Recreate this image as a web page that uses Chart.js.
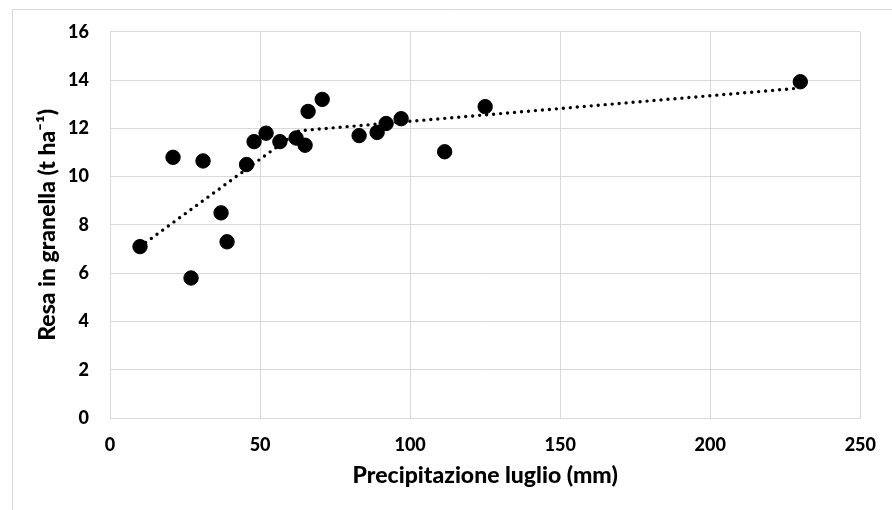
<!DOCTYPE html>
<html>
<head>
<meta charset="utf-8">
<script src="https://cdn.jsdelivr.net/npm/chart.js@4"></script>
<style>
  html, body { margin: 0; padding: 0; background: #ffffff; }
  #wrap { width: 892px; height: 510px; position: relative; }
</style>
</head>
<body>
<div id="wrap"><canvas id="c" width="892" height="510"></canvas></div>
<script>
// Data
const precipitation = [10, 21, 27, 31, 37, 39, 45.5, 48, 52, 56.6, 62, 65, 66, 70.7, 83, 89, 92, 97, 111.5, 125, 230];
const grainYield    = [7.1, 10.8, 5.8, 10.65, 8.5, 7.3, 10.5, 11.45, 11.8, 11.45, 11.6, 11.3, 12.7, 13.2, 11.7, 11.83, 12.2, 12.4, 11.03, 12.9, 13.93];
const trendX = [10, 63, 230];
const trendY = [7.1, 11.9, 13.67];
const xTicks = [0, 50, 100, 150, 200, 250];
const yTicks = [0, 2, 4, 6, 8, 10, 12, 14, 16];
const xTitle = 'Precipitazione luglio (mm)';
const yTitle = 'Resa in granella (t ha\u207B\u00B9)';

const points = precipitation.map((x, i) => ({ x: x, y: grainYield[i] }));
const trend = trendX.map((x, i) => ({ x: x, y: trendY[i] }));

const FONT = 'Lato, "DejaVu Sans", sans-serif';
const GRID = '#d9d9d9';

const frame = {
  id: 'frame',
  beforeDraw(chart) {
    const ctx = chart.ctx;
    ctx.save();
    ctx.strokeStyle = GRID;
    ctx.lineWidth = 1;
    ctx.beginPath();
    ctx.moveTo(12.5, 510);
    ctx.lineTo(12.5, 9.5);
    ctx.lineTo(892, 9.5);
    ctx.stroke();
    ctx.restore();
  }
};

new Chart(document.getElementById('c'), {
  type: 'scatter',
  data: {
    datasets: [
      {
        label: 'trend',
        type: 'line',
        data: trend,
        borderColor: '#000000',
        borderWidth: 3.4,
        borderDash: [0, 7],
        borderCapStyle: 'round',
        pointRadius: 0,
        fill: false,
        tension: 0,
        order: 0
      },
      {
        label: 'Resa',
        data: points,
        backgroundColor: '#000000',
        borderColor: '#000000',
        pointRadius: 7.2,
        pointHoverRadius: 7.2,
        order: 1
      }
    ]
  },
  options: {
    responsive: false,
    animation: false,
    events: [],
    layout: { padding: { left: 0, right: 31, top: 30, bottom: 0 } },
    plugins: { legend: { display: false }, tooltip: { enabled: false } },
    scales: {
      x: {
        type: 'linear',
        min: 0, max: 250,
        afterBuildTicks(scale) { scale.ticks = xTicks.map(v => ({ value: v })); },
        afterFit(scale) { scale.height = 92; },
        grid: { color: GRID, drawTicks: false, lineWidth: 1 },
        border: { color: GRID, width: 1 },
        ticks: { color: '#000', padding: 16, font: { family: FONT, size: 18, weight: '900' } },
        title: {
          display: true, text: xTitle, color: '#000',
          padding: { top: 0, bottom: 21 },
          font: { family: FONT, size: 23, weight: '900' }
        }
      },
      y: {
        type: 'linear',
        min: 0, max: 16,
        afterBuildTicks(scale) { scale.ticks = yTicks.map(v => ({ value: v })); },
        afterFit(scale) { scale.width = 110; },
        grid: { color: GRID, drawTicks: false, lineWidth: 1 },
        border: { color: GRID, width: 1 },
        ticks: { color: '#000', padding: 21, font: { family: FONT, size: 18, weight: '900' } },
        title: {
          display: true, text: yTitle, color: '#000',
          padding: { top: 34, bottom: 0 },
          font: { family: FONT, size: 23, weight: '900' }
        }
      }
    }
  },
  plugins: [frame]
});
</script>
</body>
</html>
